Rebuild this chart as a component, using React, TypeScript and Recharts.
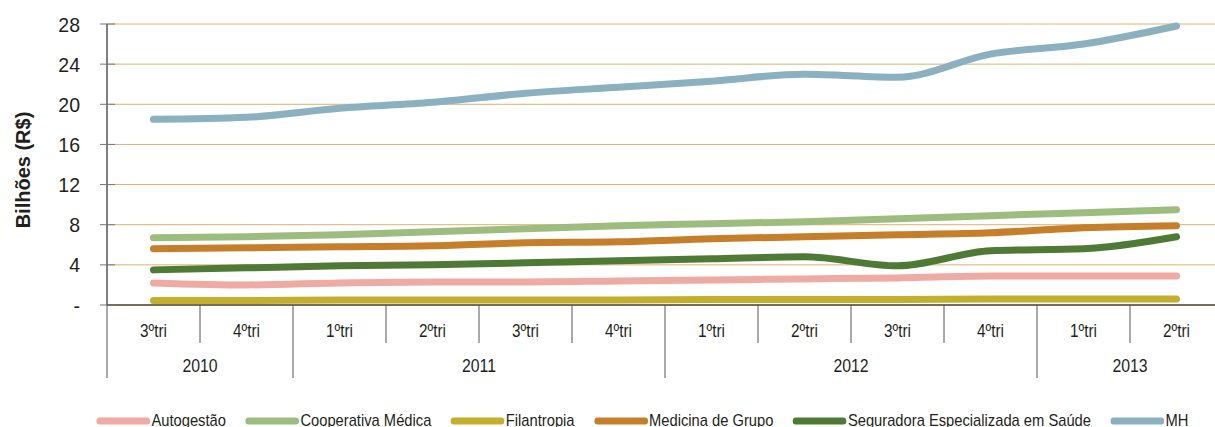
import React from 'react';
import { LineChart, Line, XAxis, YAxis, CartesianGrid, Legend } from 'recharts';

const quarters = ['3ºtri', '4ºtri', '1ºtri', '2ºtri', '3ºtri', '4ºtri', '1ºtri', '2ºtri', '3ºtri', '4ºtri', '1ºtri', '2ºtri'];
const years = ['2010', '2010', '2011', '2011', '2011', '2011', '2012', '2012', '2012', '2012', '2013', '2013'];

const autogestao = [2.2, 2.0, 2.2, 2.3, 2.3, 2.4, 2.5, 2.6, 2.7, 2.9, 2.9, 2.9];
const cooperativa = [6.7, 6.8, 7.0, 7.3, 7.6, 7.9, 8.1, 8.3, 8.6, 8.9, 9.2, 9.5];
const filantropia = [0.45, 0.45, 0.5, 0.5, 0.5, 0.5, 0.55, 0.55, 0.55, 0.6, 0.6, 0.6];
const medicina = [5.6, 5.7, 5.8, 5.9, 6.2, 6.3, 6.6, 6.8, 7.0, 7.2, 7.7, 7.9];
const seguradora = [3.5, 3.7, 3.9, 4.0, 4.2, 4.4, 4.6, 4.8, 3.9, 5.4, 5.6, 6.8];
const mh = [18.5, 18.7, 19.6, 20.2, 21.1, 21.7, 22.3, 23.0, 22.7, 25.0, 26.0, 27.8];

const yTicks = [0, 4, 8, 12, 16, 20, 24, 28];

const series = [
  { key: 'autogestao', name: 'Autogestão', color: '#efaaa3' },
  { key: 'cooperativa', name: 'Cooperativa Médica', color: '#9dbd7f' },
  { key: 'filantropia', name: 'Filantropia', color: '#c3ae2e' },
  { key: 'medicina', name: 'Medicina de Grupo', color: '#c57e2a' },
  { key: 'seguradora', name: 'Seguradora Especializada em Saúde', color: '#4e7a35' },
  { key: 'mh', name: 'MH', color: '#8bb0bf' },
];

const data = quarters.map((q, i) => ({
  q,
  year: years[i],
  autogestao: autogestao[i],
  cooperativa: cooperativa[i],
  filantropia: filantropia[i],
  medicina: medicina[i],
  seguradora: seguradora[i],
  mh: mh[i],
}));

const FONT = "'Liberation Sans', Arial, sans-serif";
const TXT = '#231f20';
const W = 1240;
const H = 427;
const Y_W = 107;
const M = { top: 24, right: 17, left: 0, bottom: 47 };
const STEP = (W - M.left - M.right - Y_W) / quarters.length;
const PLOT_BOTTOM = H - M.bottom - 75;

// narrow text: the original uses a condensed face
const Narrow = ({ x, y, size, sx, children, weight }: any) => (
  <text
    transform={`translate(${x},${y}) scale(${sx},1)`}
    textAnchor="middle"
    fontSize={size}
    fontWeight={weight}
    fill={TXT}
    fontFamily={FONT}
  >
    {children}
  </text>
);

const QuarterTick = (props: any) => {
  const { x, index } = props;
  const left = x - STEP / 2;
  const isYearStart = index === 0 || years[index] !== years[index - 1];
  let yearLabel = null;
  if (isYearStart) {
    const count = years.filter((y) => y === years[index]).length;
    yearLabel = (
      <>
        <line x1={left} x2={left} y1={PLOT_BOTTOM + 38} y2={PLOT_BOTTOM + 73} stroke="#555" />
        <Narrow x={left + (count * STEP) / 2} y={PLOT_BOTTOM + 67} size={18} sx={0.88}>
          {years[index]}
        </Narrow>
      </>
    );
  }
  return (
    <g>
      <line x1={left} x2={left} y1={PLOT_BOTTOM} y2={PLOT_BOTTOM + 38} stroke="#555" />
      <Narrow x={x} y={PLOT_BOTTOM + 32} size={18} sx={0.85}>
        {quarters[index]}
      </Narrow>
      {yearLabel}
    </g>
  );
};

const ValueTick = (props: any) => {
  const { y, payload } = props;
  return (
    <g>
      <line x1={Y_W - 7} x2={Y_W + 8} y1={y} y2={y} stroke="#777" />
      <text
        transform={`translate(80,${y + 7.5}) scale(0.93,1)`}
        textAnchor="end"
        fontSize={21}
        fill={TXT}
        fontFamily={FONT}
      >
        {payload.value === 0 ? '-' : payload.value}
      </text>
    </g>
  );
};

const LegendContent = () => (
  <div
    style={{
      display: 'flex',
      gap: 22,
      fontFamily: FONT,
      fontSize: 17,
      lineHeight: '20px',
      color: TXT,
      whiteSpace: 'nowrap',
      transform: 'scaleX(0.866)',
      transformOrigin: 'left center',
    }}
  >
    {series.map((s) => (
      <div key={s.key} style={{ display: 'flex', alignItems: 'center' }}>
        <svg width={63} height={10}>
          <line x1={4} x2={59} y1={5} y2={5} stroke={s.color} strokeWidth={7} strokeLinecap="round" />
        </svg>
        <span style={{ marginLeft: 1 }}>{s.name}</span>
      </div>
    ))}
  </div>
);

export default function App() {
  return (
    <div style={{ position: 'absolute', left: 0, top: 0, width: 1215, height: 427, overflow: 'hidden', background: '#fff' }}>
      <LineChart width={W} height={H} data={data} margin={M}>
        <CartesianGrid vertical={false} stroke="#dcb070" />
        <XAxis
          dataKey="q"
          interval={0}
          height={75}
          padding={{ left: STEP / 2, right: STEP / 2 }}
          tickLine={false}
          axisLine={{ stroke: '#000' }}
          tick={<QuarterTick />}
        />
        <YAxis
          width={Y_W}
          domain={[0, 28]}
          ticks={yTicks}
          tickLine={false}
          axisLine={{ stroke: '#000' }}
          tick={<ValueTick />}
        />
        <Legend
          layout="horizontal"
          verticalAlign="middle"
          align="center"
          wrapperStyle={{ top: 411, left: 96, width: 'auto' }}
          content={<LegendContent />}
        />
        {series.map((s) => (
          <Line
            key={s.key}
            type="monotone"
            dataKey={s.key}
            name={s.name}
            stroke={s.color}
            strokeWidth={7}
            strokeLinecap="round"
            dot={false}
            activeDot={false}
            isAnimationActive={false}
          />
        ))}
        <text
          x={30}
          y={170}
          transform="rotate(-90 30 170)"
          textAnchor="middle"
          fontSize={20}
          fontWeight="bold"
          fill={TXT}
          fontFamily={FONT}
        >
          Bilhões (R$)
        </text>
      </LineChart>
    </div>
  );
}
